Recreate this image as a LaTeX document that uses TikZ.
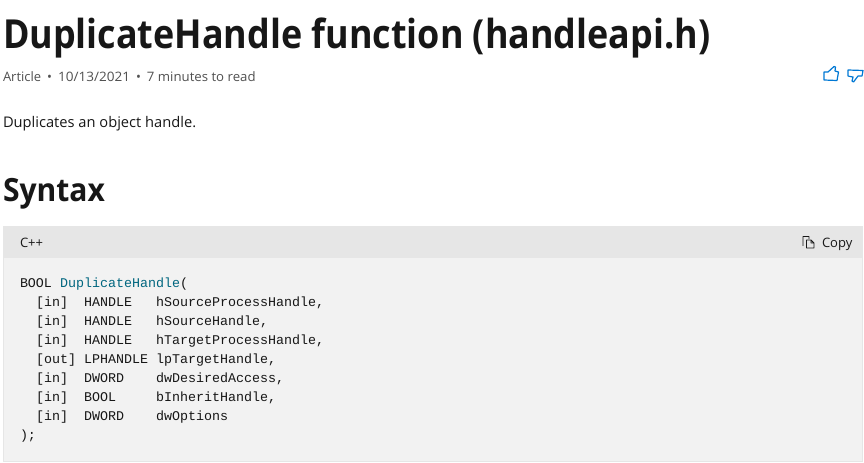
\documentclass[tikz,border=0pt]{standalone}
\usepackage{fontspec}
\setmainfont{Open Sans}
\setmonofont{Liberation Mono}
\definecolor{ink}{HTML}{171717}
\definecolor{meta}{HTML}{505050}
\definecolor{codebg}{HTML}{F2F2F2}
\definecolor{codehd}{HTML}{E6E6E6}
\definecolor{codeedge}{HTML}{E6E6E6}
\definecolor{blueic}{HTML}{0078D4}
\definecolor{fn}{HTML}{00667F}
\newcommand{\fitw}[2]{\resizebox{#1}{\height}{#2}}
\tikzset{
 x=0.75pt,y=-0.75pt,
 lbl/.style={anchor=base west,inner sep=0pt,outer sep=0pt,text=ink},
 code/.style={lbl,font=\ttfamily\fontsize{10}{12}\selectfont,text=ink},
 thumb/.style={draw=blueic,line width=0.9pt,line join=round},
}
\begin{document}
\begin{tikzpicture}
\useasboundingbox (0,0) rectangle (864,463);
\fill[white] (0,0) rectangle (864,463);
\node[lbl,font=\bfseries\fontsize{30}{36}\selectfont] (title) at (3,49) {\fitw{530.5pt}{DuplicateHandle function (handleapi.h)}};
\node[lbl,font=\fontsize{9.75}{12}\selectfont,text=meta] (meta) at (3,82) {Article\hspace{4.5pt}•\hspace{4.5pt}\fitw{54pt}{10/13/2021}\hspace{4.5pt}•\hspace{4.5pt}\fitw{81.5pt}{7 minutes to read}};
\node[lbl,font=\fontsize{11}{14}\selectfont] (desc) at (3,128) {Duplicates an object handle.};
\node[lbl,font=\bfseries\fontsize{24}{30}\selectfont] (syntax) at (3,202) {\fitw{76.5pt}{Syntax}};
\filldraw[fill=codebg,draw=codeedge,line width=0.5pt] (3,226) rectangle (862,461);
\fill[codehd] (3,226) rectangle (862,258);
\node[lbl,font=\fontsize{9.75}{12}\selectfont] (lang) at (20,248) {C++};
\node[lbl,font=\fontsize{9.75}{12}\selectfont] (copy) at (822,248) {Copy};
% copy icon
\draw[ink,line width=0.7pt,line join=round] (803,246) -- (803,236.5) -- (809,236.5) -- (809,239) (806.5,248) -- (806.5,240) -- (811,240) -- (814,243) -- (814,248) -- cycle (811,240) -- (811,243) -- (814,243);
% thumbs
\draw[thumb] (824,72) -- (828,72) -- (834,66.5) -- (835.5,67) -- (835,71) -- (838.5,72) -- (837,80.5) -- (824,80) -- cycle;
\draw[thumb] (848,70) -- (863,70.5) -- (862,76) -- (858,76) -- (853.5,82) -- (852,81) -- (853,77) -- (850,76.5) -- (848,76) -- cycle;
\node[code] (l0) at (20,287.7) {BOOL \textcolor{fn}{DuplicateHandle}(};
\node[code] (l1) at (20,306.7) {\ \ [in]\ \ HANDLE\ \ \ hSourceProcessHandle,};
\node[code] (l2) at (20,325.7) {\ \ [in]\ \ HANDLE\ \ \ hSourceHandle,};
\node[code] (l3) at (20,344.7) {\ \ [in]\ \ HANDLE\ \ \ hTargetProcessHandle,};
\node[code] (l4) at (20,363.7) {\ \ [out] LPHANDLE lpTargetHandle,};
\node[code] (l5) at (20,382.7) {\ \ [in]\ \ DWORD\ \ \ \ dwDesiredAccess,};
\node[code] (l6) at (20,401.7) {\ \ [in]\ \ BOOL\ \ \ \ \ bInheritHandle,};
\node[code] (l7) at (20,420.7) {\ \ [in]\ \ DWORD\ \ \ \ dwOptions};
\node[code] (l8) at (20,439.7) {);};
\end{tikzpicture}
\end{document}
